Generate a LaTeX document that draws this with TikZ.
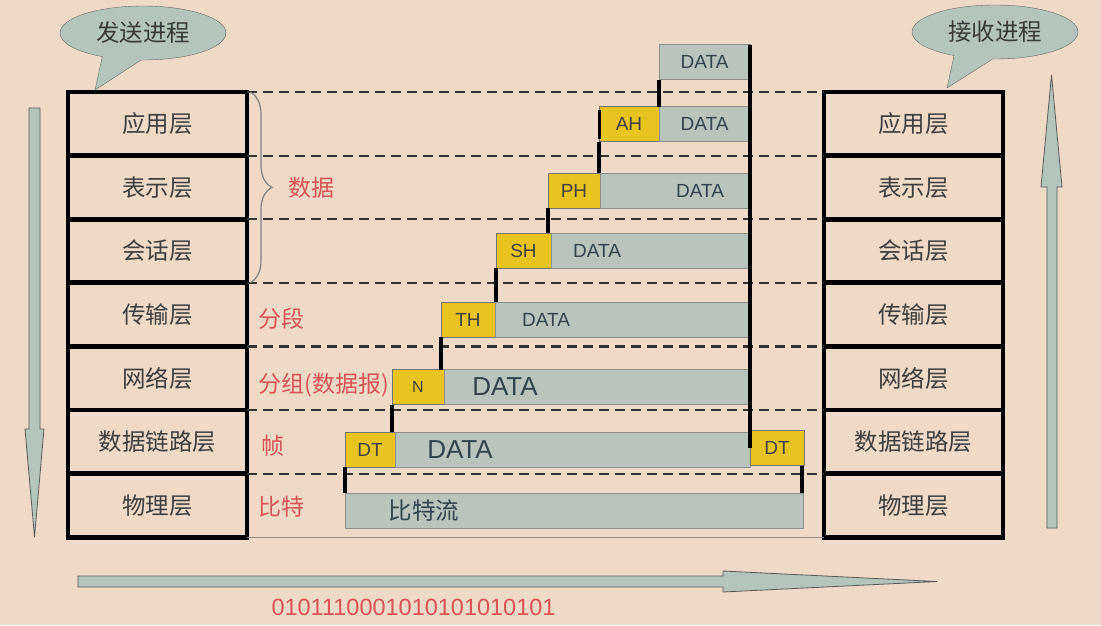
\documentclass[tikz,border=0pt]{standalone}
\usepackage{fontspec}
\setmainfont{Liberation Sans}
\newfontfamily\cjk{Noto Sans CJK SC}
\usetikzlibrary{positioning,shapes.callouts,decorations.pathreplacing}
\definecolor{bgpeach}{RGB}{239,217,199}
\definecolor{paygray}{RGB}{184,196,188}
\definecolor{hdryellow}{RGB}{232,196,32}
\definecolor{labred}{RGB}{216,84,84}
\definecolor{layertext}{RGB}{62,62,62}
\definecolor{datablue}{RGB}{48,68,78}
\definecolor{arrowfill}{RGB}{180,198,188}
\tikzset{
    layer/.style={
        rectangle,
        line width=4.8pt,
        draw=black,
        outer sep=0pt,
        minimum width=179pt,
        minimum height=63.6pt,
        font=\cjk\fontsize{23.5}{27}\selectfont,
        text=layertext
    },
    hdr/.style={
        rectangle,
        draw=black!55,
        fill=hdryellow,
        minimum height=35pt,
        inner sep=0pt,
        outer sep=0pt,
        font=\fontsize{19}{22}\selectfont,
        text=black!75
    },
    pay/.style={
        rectangle,
        draw=black!45,
        fill=paygray,
        minimum height=35pt,
        inner sep=0pt,
        outer sep=0pt
    },
    datatxt/.style={
        font=\fontsize{19}{22}\selectfont,
        text=datablue
    },
    databig/.style={
        font=\fontsize{26}{30}\selectfont,
        text=datablue
    },
    redlab/.style={
        anchor=west,
        font=\cjk\fontsize{23}{26}\selectfont,
        text=labred
    },
    bubble/.style={
        ellipse callout,
        callout pointer arc=28,
        draw=black!60,
        fill=arrowfill,
        minimum width=166pt,
        minimum height=54pt,
        inner sep=0pt,
        font=\cjk\fontsize{23.5}{27}\selectfont,
        text=black!78
    },
    rowline/.style={
        line width=2.2pt,
        draw=black!80,
        dash pattern=on 10pt off 6pt
    },
    stub/.style={line width=4pt, draw=black},
    bigarrow/.style={fill=arrowfill, draw=black!65, line width=0.8pt}
}
\begin{document}
\begin{tikzpicture}[x=1pt,y=-1pt]
    \fill[bgpeach] (0,0) rectangle (1101,625);
    \useasboundingbox (0,0) rectangle (1101,625);

    % the two stacks of layers
    \foreach \name [count=\i from 0] in {应用层,表示层,会话层,传输层,网络层,数据链路层,物理层} {
        \node[layer] (L\i) at (157.5,{123.8+63.6*\i}) {\name};
        \node[layer] (R\i) at (913.5,{123.8+63.6*\i}) {\name};
    }
    \foreach \i in {0,...,6}
        \draw[rowline] (L\i.north east) -- (R\i.north west);
    \draw[black!45, line width=1pt] (L6.south east) -- (R6.south west);

    % callouts
    \node[bubble, callout absolute pointer={(95,90)}] (send) at (143,33) {发送进程};
    \node[bubble, callout absolute pointer={(947,88)}] (recv) at (995,32) {接收进程};

    % packets
    \node[pay, minimum width=91pt] (d0) at (704.5,62) {};
    \node[datatxt] at (d0) {DATA};
    \node[hdr, minimum width=60pt] (ah) at (629,124) {AH};
    \node[pay, minimum width=91pt, right=0pt of ah] (ahd) {};
    \node[datatxt] at (ahd) {DATA};
    \node[hdr, minimum width=52pt] (ph) at (574,190.5) {PH};
    \node[pay, minimum width=150pt, right=0pt of ph] (phd) {};
    \node[datatxt] at ([xshift=100pt]phd.west) {DATA};
    \node[hdr, minimum width=55pt] (sh) at (523.5,250.5) {SH};
    \node[pay, minimum width=199pt, right=0pt of sh] (shd) {};
    \node[datatxt] at ([xshift=46pt]shd.west) {DATA};
    \node[hdr, minimum width=54pt] (th) at (468,319.5) {TH};
    \node[pay, minimum width=255pt, right=0pt of th] (thd) {};
    \node[datatxt] at ([xshift=51pt]thd.west) {DATA};
    \node[hdr, minimum width=52pt, font=\fontsize{16}{18}\selectfont] (nh) at (418,387) {N};
    \node[pay, minimum width=306pt, right=0pt of nh] (nhd) {};
    \node[databig] at ([xshift=61pt]nhd.west) {DATA};
    \node[hdr, minimum width=50pt] (dt) at (370,449.5) {DT};
    \node[pay, minimum width=355pt, right=0pt of dt] (dtd) {};
    \node[databig] at ([xshift=65pt]dtd.west) {DATA};
    \node[hdr, minimum width=54pt, right=0pt of dtd, yshift=1.5pt] (dtr) {DT};
    \node[pay, minimum width=458pt] (bits) at (574,510.5) {};
    \node[anchor=west, font=\cjk\fontsize{23.5}{27}\selectfont, text=datablue]
        at ([xshift=40pt]bits.west) {比特流};

    % steps between packets
    \draw[stub] (d0.north east) -- (d0.north east |- dtr.west);
    \draw[stub] (d0.south west) -- (d0.south west |- ah.north);
    \draw[line width=3pt] ([yshift=-3pt]ah.north west) -- ([yshift=3pt]ah.south west);
    \draw[stub] (ah.south west) -- (ah.south west |- ph.north);
    \draw[stub] (ph.south west) -- (ph.south west |- sh.north);
    \draw[stub] (sh.south west) -- (sh.south west |- th.north);
    \draw[stub] (th.south west) -- (th.south west |- nh.north);
    \draw[stub] (nh.south west) -- (nh.south west |- dt.north);
    \draw[stub] (dt.south west) -- (dt.south west |- bits.north);
    \draw[stub] ([xshift=-2pt]dtr.south east) -- ([xshift=-2pt]dtr.south east |- bits.north);

    % labels between the stacks
    \draw[black!50, line width=1.2pt, decorate, decoration={brace, amplitude=22pt}]
        ([xshift=3pt]L0.north east) -- ([xshift=3pt]L2.south east);
    \node[redlab] (shuju) at (285,188) {数据};
    \node[redlab] (fenduan) at (255,319) {分段};
    \node[redlab] (fenzu) at (255,385) {分组(数据报)};
    \node[redlab] (zhen) at (258,446) {帧};
    \node[redlab] (bite) at (255,507) {比特};

    % direction arrows
    \draw[bigarrow] (29,108) -- (40,108) -- (40,429) -- (44,429) -- (34.5,537)
        -- (25,429) -- (29,429) -- cycle;
    \draw[bigarrow] (1047,528) -- (1057,528) -- (1057,187) -- (1062,187)
        -- (1051.5,75) -- (1041,187) -- (1047,187) -- cycle;
    \draw[bigarrow] (78,576) -- (723,576) -- (723,571) -- (937,581.5)
        -- (723,592) -- (723,587) -- (78,587) -- cycle;
    \node[anchor=west, font=\fontsize{23.5}{26}\selectfont, text=labred]
        (bitstr) at (268,607) {0101110001010101010101};
\end{tikzpicture}
\end{document}
